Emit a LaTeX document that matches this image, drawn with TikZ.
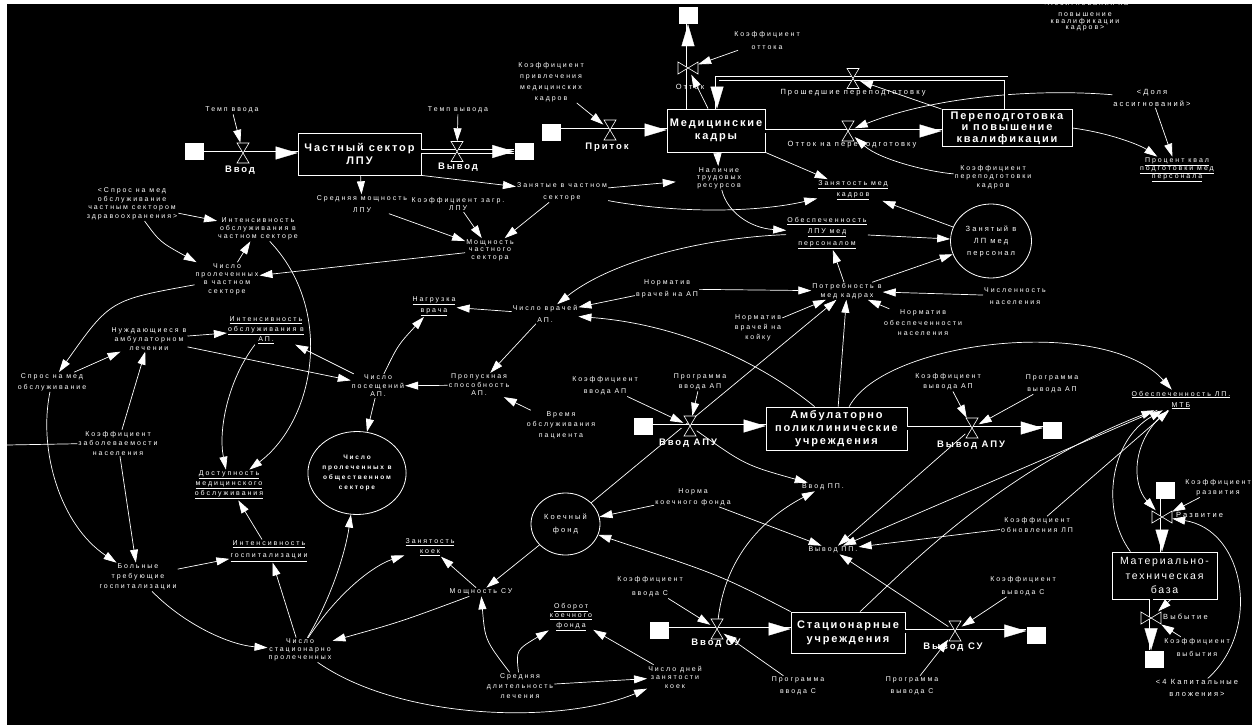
\documentclass[tikz,border=0pt]{standalone}
\usepackage{fontspec}
\setmainfont{Liberation Sans}
\newfontfamily\lbf[LetterSpace=28]{Liberation Sans}
\newfontfamily\stf[LetterSpace=17]{Liberation Sans}
\newfontfamily\flf[LetterSpace=20]{Liberation Sans}
\newcommand{\fsz}[2]{\lbf\fontsize{#1}{#2}\selectfont}
\usetikzlibrary{arrows.meta,shapes.geometric}
\begin{document}
\begin{tikzpicture}[x=1pt,y=-1pt,
  lb/.style={text=white, font=\fsz{7}{8.5}, align=center, inner sep=1pt},
  stock/.style={draw=white, line width=0.8pt, text=white, font=\stf\bfseries\fontsize{11}{12.5}\selectfont, align=center, inner sep=0pt},
  flbl/.style={text=white, font=\flf\bfseries\fontsize{9.5}{11}\selectfont, inner sep=1pt},
  flr/.style={text=white, font=\fsz{7.5}{9}, inner sep=1pt},
  circ/.style={draw=white, line width=0.8pt, ellipse, inner sep=0pt, text=white, align=center},
  sinkbox/.style={fill=white, minimum width=19pt, minimum height=17pt, inner sep=0pt},
  vnode/.style={inner sep=0pt, minimum width=13pt, minimum height=20pt},
  vvnode/.style={inner sep=0pt, minimum width=20pt, minimum height=13pt},
  pipe/.style={draw=white, double=black, double distance=3pt, line width=0.7pt},
  ptip/.style={draw=black, line width=0.3pt, -{Triangle[length=22pt,width=13pt,color=white]}},
  lnk/.style={draw=white, line width=0.7pt, -{Triangle[length=13pt,width=8pt]}},
  plainlnk/.style={draw=white, line width=0.7pt},
  hvalve/.pic={\draw[white, fill=black, line width=0.6pt] (-6,-10) -- (6,-10) -- (-6,10) -- (6,10) -- cycle;},
  vvalve/.pic={\draw[white, fill=black, line width=0.6pt] (-10,-6) -- (-10,6) -- (10,-6) -- (10,6) -- cycle;}
]
\useasboundingbox (0,0) rectangle (1252,725);
\fill[white] (0,0) rectangle (1252,725);
\fill[black] (7,4) rectangle (1252,725);

% stocks
\node[stock, minimum width=123pt, minimum height=42pt] (s1) at (359.5,154) {Частный сектор\\ЛПУ};
\node[stock, minimum width=98pt, minimum height=43pt] (s2) at (716,130.5) {Медицинские\\кадры};
\node[stock, minimum width=130pt, minimum height=37pt, font=\stf\bfseries\fontsize{11}{11.5}\selectfont] (s3) at (1007,128) {Переподготовка\\и повышение\\квалификации};
\node[stock, minimum width=141pt, minimum height=43pt, font=\stf\bfseries\fontsize{11}{13}\selectfont] (s4) at (836.5,428.5) {Амбулаторно\\поликлинические\\учреждения};
\node[stock, minimum width=114pt, minimum height=41pt, font=\stf\bfseries\fontsize{11}{14}\selectfont] (s5) at (848,632.5) {Стационарные\\учреждения};
\node[stock, minimum width=105pt, minimum height=47pt, font=\stf\fontsize{10.5}{14.5}\selectfont] (s6) at (1164.5,575.5) {Материально-\\техническая\\база};

% circles
\node[circ, minimum width=81pt, minimum height=74pt, font=\fsz{7.5}{12}] (c1) at (991,241) {Занятый в\\ЛП мед\\персонал};
\node[circ, minimum width=91pt, minimum height=83pt, font=\lbf\bfseries\fontsize{6.5}{10}\selectfont] (c2) at (357,473) {Число\\пролеченных в\\общественном\\секторе};
\node[circ, minimum width=69pt, minimum height=62pt, font=\fsz{7.5}{13}] (c3) at (565.5,524) {Коечный\\фонд};

% clouds and valves
\node[sinkbox] (cl1) at (194.5,151.5) {};
\node[vnode] (v1) at (243,153) {};
\node[sinkbox] (cl2) at (524,151.5) {};
\node[vnode] (v2) at (457,151.5) {};
\node[sinkbox] (cl3) at (551.5,132) {};
\node[vnode] (v3) at (610,130) {};
\node[sinkbox] (cl4) at (688,15.5) {};
\node[vvnode] (v4) at (688,68) {};
\node[vnode] (v5) at (848,131) {};
\node[vnode] (v6) at (853,78.5) {};
\node[sinkbox] (cl5) at (643,426.5) {};
\node[vnode] (v7) at (690,426) {};
\node[sinkbox] (cl6) at (1052.5,430.5) {};
\node[vnode] (v8) at (972,428) {};
\node[sinkbox] (cl7) at (659,630) {};
\node[vnode] (v9) at (717,629) {};
\node[sinkbox] (cl8) at (1036,635) {};
\node[vnode] (v10) at (955,631) {};
\node[sinkbox] (cl9) at (1165,490.5) {};
\node[vvnode] (v11) at (1162,517) {};
\node[sinkbox] (cl10) at (1154,659) {};
\node[vvnode] (v12) at (1151,618) {};
\coordinate (p6a) at (1006,78.5);
\coordinate (p6b) at (717,78.5);
\coordinate (ledge) at (7,445);

% variable labels
\node[lb] (tv) at (232,110) {Темп ввода};
\node[lb] (tw) at (458,110) {Темп вывода};
\node[lb, font=\fsz{7}{11}] (kp) at (551,82) {Коэффициент\\привлечения\\медицинских\\кадров};
\node[lb, font=\fsz{7}{13}] (ko) at (767,40) {Коэффициент\\оттока};
\node[lb, font=\fsz{7}{6.8}, anchor=north] (ass) at (1085,-0.5) {<Ассигнования на\\[4pt]повышение\\квалификации\\кадров>};
\node[lb, font=\fsz{7.5}{12}] (dol) at (1152,98) {<Доля\\ассигнований>};
\node[lb, font=\fsz{7}{8}] (pkm) at (1177,170) {\underline{Процент квал}\\\underline{подготовки мед}\\\underline{персонала}};
\node[lb] (le) at (993,177) {Коэффициент\\переподготовки\\кадров};
\node[lb, font=\fsz{7}{12}] (A) at (362,204) {Средняя мощность\\ЛПУ};
\node[lb] (B) at (458,204) {Коэффициент загр.\\ЛПУ};
\node[lb, font=\fsz{7}{12}] (C) at (562,192) {Занятые в частном\\секторе};
\node[lb, font=\fsz{7}{7.5}] (mch) at (490,250) {Мощность\\частного\\сектора};
\node[lb, font=\fsz{7}{7.5}] (nal2) at (719,178) {Наличие\\трудовых\\ресурсов};
\node[lb, font=\fsz{7}{11}] (zmk) at (853,190) {\underline{Занятость мед}\\\underline{кадров}};
\node[lb, font=\fsz{7}{11.5}] (olp) at (827,233) {\underline{Обеспеченность}\\\underline{ЛПУ мед}\\\underline{персоналом}};
\node[lb] (pmk) at (847,291) {Потребность в\\мед кадрах};
\node[lb, font=\fsz{7}{12}] (la) at (667,289) {Норматив\\врачей на АП};
\node[lb, font=\fsz{7}{10}] (lbb) at (758,328) {Норматив\\врачей на\\койку};
\node[lb, font=\fsz{7}{10.5}] (lc) at (923,323) {Норматив\\обеспеченности\\населения};
\node[lb, font=\fsz{7}{12}] (ld) at (1015,296) {Численность\\населения};
\node[lb, font=\fsz{7}{12}] (nvap) at (545,314) {Число врачей\\АП.};
\node[lb, font=\fsz{7}{11}] (nag) at (434,306) {\underline{Нагрузка}\\\underline{врача}};
\node[lb] (pap) at (479,385) {Пропускная\\способность\\АП.};
\node[lb] (npap) at (378,386) {Число\\посещений\\АП.};
\node[lb, font=\fsz{7}{10.5}] (vrm) at (561,425) {Время\\обслуживания\\пациента};
\node[lb, font=\fsz{7}{12}] (kvap) at (605,386) {Коэффициент\\ввода АП};
\node[lb, font=\fsz{7}{10}] (pvap) at (700,382) {Программа\\ввода АП};
\node[lb, font=\fsz{7}{10}] (kwap) at (948,382) {Коэффициент\\вывода АП};
\node[lb, font=\fsz{7}{12}] (pwap) at (1052,384) {Программа\\вывода АП};
\node[lb, font=\fsz{7}{11}] (mtb) at (1181,400) {\underline{Обеспеченность ЛП.}\\\underline{МТБ}};
\node[lb, font=\fsz{7}{11}] (sms) at (52,382) {Спрос на мед\\обслуживание};
\node[lb] (sps) at (132,204) {<Спрос на мед\\обслуживание\\частным сектором\\здравоохранения>};
\node[lb, font=\fsz{7}{8}] (ich) at (258,229) {Интенсивность\\обслуживания в\\частном секторе};
\node[lb, font=\fsz{7}{8.3}] (npc) at (227,279) {Число\\пролеченных\\в частном\\секторе};
\node[lb, font=\fsz{7}{9}] (nal) at (149,339) {Нуждающиеся в\\амбулаторном\\лечении};
\node[lb, font=\fsz{7}{10}] (iap) at (266,330) {\underline{Интенсивность}\\\underline{обслуживания в}\\\underline{АП.}};
\node[lb, font=\fsz{7}{9.5}] (kz) at (118,443) {Коэффициент\\заболеваемости\\населения};
\node[lb, font=\fsz{7}{10}] (dmo) at (229,485) {\underline{Доступность}\\\underline{медицинского}\\\underline{обслуживания}};
\node[lb, font=\fsz{7}{10}] (btg) at (138,577) {Больные\\требующие\\госпитализации};
\node[lb, font=\fsz{7}{12.5}] (igos) at (269,551) {\underline{Интенсивность}\\\underline{госпитализации}};
\node[lb, font=\fsz{7}{8}] (nsp) at (300,650) {Число\\стационарно\\пролеченных};
\node[lb, font=\fsz{7}{10}] (zk) at (430,547) {\underline{Занятость}\\\underline{коек}};
\node[lb] (msu) at (481,592) {Мощность СУ};
\node[lb, font=\fsz{7}{9.5}] (okf) at (571,617) {\underline{Оборот}\\\underline{коечного}\\\underline{фонда}};
\node[lb, font=\fsz{7}{10}] (srv) at (520,686) {Средняя\\длительность\\лечения};
\node[lb, font=\fsz{7}{8.5}] (ndz) at (675,677) {Число дней\\занятости\\коек};
\node[lb] (vin) at (823,487) {Ввод ПП.};
\node[lb] (vout) at (833,550) {Вывод ПП.};
\node[lb, font=\fsz{7}{11}] (kfl) at (693,497) {Норма\\коечного фонда};
\node[lb, font=\fsz{7}{10}] (kob) at (1037,525) {Коэффициент\\обновления ЛП};
\node[lb, font=\fsz{7}{14}] (kvs) at (650,587) {Коэффициент\\ввода С};
\node[lb, font=\fsz{7}{12}] (pvs) at (798,686) {Программа\\ввода С};
\node[lb, font=\fsz{7}{13}] (kws) at (1023,586) {Коэффициент\\вывода С};
\node[lb, font=\fsz{7}{12}] (pws) at (912,686) {Программа\\вывода С};
\node[lb, font=\fsz{7}{10}] (kr) at (1218,488) {Коэффициент\\развития};
\node[lb, font=\fsz{7}{13}] (kvb) at (1197,647) {Коэффициент\\выбытия};
\node[lb, font=\fsz{7.5}{11.5}] (kap) at (1197,688) {<4 Капитальные\\вложения>};

% information links
\draw[lnk] (tv) -- (v1);
\draw[lnk] (tw) -- (v2);
\draw[lnk] (kp) -- (v3);
\draw[lnk] (ko) -- (v4);
\draw[lnk] (s2.110) -- (v4);
\draw[lnk] (s3.north west) -- (v6);
\draw[lnk] (dol) .. controls (1030,88) and (930,98) .. (v5);
\draw[lnk] (le) .. controls (930,172) and (880,160) .. (v5);
\draw[lnk] (s3.east) .. controls (1110,133) and (1140,145) .. (pkm);
\draw[lnk] (dol) -- (pkm);
\draw[lnk] (s1) -- (A);
\draw[lnk] (s1.south east) -- (C);
\draw[lnk] (A) -- (mch);
\draw[lnk] (B) -- (mch);
\draw[lnk] (C) -- (mch);
\draw[lnk, shorten >=20pt] (C) -- (nal2);
\draw[lnk] (C) .. controls (680,214) and (760,212) .. (zmk);
\draw[lnk] (s2) -- (nal2);
\draw[lnk] (s2.south east) -- (zmk);
\draw[lnk] (nal2) .. controls (727,212) and (750,228) .. (olp);
\draw[lnk] (olp) -- (c1);
\draw[lnk] (c1) -- (zmk);
\draw[lnk] (pmk) -- (olp);
\draw[lnk] (pmk) -- (c1);
\draw[lnk] (ld) -- (pmk);
\draw[lnk] (lc) -- (pmk);
\draw[lnk] (lbb) -- (pmk);
\draw[lnk] (la) -- (pmk);
\draw[lnk] (s4) -- (pmk);
\draw[lnk] (c3) -- (pmk);
\draw[lnk] (olp) .. controls (700,238) and (610,262) .. (nvap);
\draw[lnk] (la) -- (nvap);
\draw[lnk] (s4.135) .. controls (770,370) and (690,325) .. (nvap);
\draw[lnk] (nvap) -- (nag);
\draw[lnk] (nvap) -- (pap);
\draw[lnk] (pap) -- (npap);
\draw[lnk] (vrm) -- (pap);
\draw[lnk] (npap) .. controls (398,345) .. (nag);
\draw[lnk] (npap) -- (c2);
\draw[lnk] (npap) -- (iap);
\draw[lnk] (nal) -- (npap);
\draw[lnk] (nal) -- (iap);
\draw[lnk] (sms) -- (nal);
\draw[lnk] (npc) .. controls (110,300) .. (sms);
\draw[lnk] (npc) -- (ich);
\draw[lnk] (sps) -- (ich);
\draw[lnk] (sps) .. controls (160,242) .. (npc);
\draw[lnk] (mch) -- (npc);
\draw[lnk] (ich) .. controls (335,310) and (315,420) .. (dmo);
\draw[lnk] (iap) .. controls (228,380) and (218,430) .. (dmo);
\draw[lnk] (kz) -- (nal);
\draw[lnk] (kz) -- (btg);
\draw[plainlnk] (ledge) -- (kz);
\draw[lnk] (sms) .. controls (38,450) and (60,525) .. (btg);
\draw[lnk] (btg) -- (igos);
\draw[lnk] (btg) .. controls (185,625) and (230,645) .. (nsp);
\draw[lnk] (nsp) -- (igos);
\draw[lnk] (igos) -- (dmo);
\draw[lnk] (nsp) .. controls (330,600) and (345,555) .. (c2);
\draw[lnk] (nsp) .. controls (340,590) and (375,565) .. (zk);
\draw[lnk] (nsp) .. controls (400,720) and (560,725) .. (ndz);
\draw[lnk] (msu) .. controls (400,622) .. (nsp);
\draw[lnk] (msu) -- (zk);
\draw[lnk] (c3) -- (msu);
\draw[lnk] (srv) .. controls (485,640) .. (msu);
\draw[lnk] (srv) .. controls (516,650) .. (okf);
\draw[lnk] (srv) -- (ndz);
\draw[lnk] (ndz) -- (okf);
\draw[lnk] (kfl) -- (c3);
\draw[lnk] (s5.north west) .. controls (720,575) .. (c3);
\draw[lnk] (kfl) -- (vout);
\draw[lnk] (kvap) -- (v7);
\draw[lnk] (pvap) -- (v7);
\draw[lnk] (kwap) -- (v8);
\draw[lnk] (pwap) -- (v8);
\draw[lnk] (v7) .. controls (745,465) .. (vin);
\draw[lnk] (v9) .. controls (725,560) and (760,520) .. (vin);
\draw[lnk] (kvs) -- (v9);
\draw[lnk] (pvs) -- (v9);
\draw[lnk] (kws) -- (v10);
\draw[lnk] (pws) -- (v10);
\draw[lnk] (v8) -- (vout);
\draw[lnk] (v10) -- (vout);
\draw[lnk] (mtb) -- (vout);
\draw[lnk] (kob) -- (vout);
\draw[lnk] (kob) -- (mtb);
\draw[lnk] (s4.60) .. controls (885,340) and (1105,315) .. (mtb);
\draw[lnk] (s5.60) .. controls (905,570) and (1000,470) .. (mtb);
\draw[lnk] (s6.145) .. controls (1100,510) and (1110,440) .. (mtb);
\draw[lnk] (mtb) .. controls (1130,440) and (1132,485) .. (v11);
\draw[lnk] (kr) -- (v11);
\draw[lnk] (kap) .. controls (1262,630) and (1245,530) .. (v11);
\draw[lnk] (kvb) -- (v12);
\draw[lnk] (s6.285) -- (v12);

% pipes
\draw[pipe] (cl1.east |- v1) -- (s1.west |- v1);
\draw[pipe] (s1.east |- v2) -- (cl2.west |- v2);
\draw[pipe] (cl3.east |- v3) -- (s2.west |- v3);
\draw[pipe] (s2.north -| v4) -- (cl4.south -| v4);
\draw[pipe] (s2.east |- v5) -- (s3.west |- v5);
\draw[pipe] (s3.north -| p6a) -- (p6a) -- (p6b) -- (s2.north -| p6b);
\draw[pipe] (cl5.east |- v7) -- (s4.west |- v7);
\draw[pipe] (s4.east |- v8) -- (cl6.west |- v8);
\draw[pipe] (cl7.east |- v9) -- (s5.west |- v9);
\draw[pipe] (s5.east |- v10) -- (cl8.west |- v10);
\draw[pipe] (cl9.south -| v11) -- (s6.north -| v11);
\draw[pipe] (s6.south -| v12) -- (cl10.north -| v12);
\draw[ptip] (cl1.east |- v1) -- (s1.west |- v1);
\draw[ptip] (s1.east |- v2) -- (cl2.west |- v2);
\draw[ptip] (cl3.east |- v3) -- (s2.west |- v3);
\draw[ptip] (s2.north -| v4) -- (cl4.south -| v4);
\draw[ptip] (s2.east |- v5) -- (s3.west |- v5);
\draw[ptip] (p6b) -- (s2.north -| p6b);
\draw[ptip] (cl5.east |- v7) -- (s4.west |- v7);
\draw[ptip] (s4.east |- v8) -- (cl6.west |- v8);
\draw[ptip] (cl7.east |- v9) -- (s5.west |- v9);
\draw[ptip] (s5.east |- v10) -- (cl8.west |- v10);
\draw[ptip] (cl9.south -| v11) -- (s6.north -| v11);
\draw[ptip] (s6.south -| v12) -- (cl10.north -| v12);
\pic at (v1) {hvalve};
\pic at (v2) {hvalve};
\pic at (v3) {hvalve};
\pic at (v4) {vvalve};
\pic at (v5) {hvalve};
\pic at (v6) {hvalve};
\pic at (v7) {hvalve};
\pic at (v8) {hvalve};
\pic at (v9) {hvalve};
\pic at (v10) {hvalve};
\pic at (v11) {vvalve};
\pic at (v12) {vvalve};

% flow labels
\node[flbl] (fv1) at (240,170) {Ввод};
\node[flbl] (fv2) at (458,167) {Вывод};
\node[flbl] (fv3) at (607,147) {Приток};
\node[flr] (fv4) at (690,87) {Отток};
\node[flr] (fv5) at (852,145) {Отток на переподготовку};
\node[flr] (fv6) at (853,93) {Прошедшие переподготовку};
\node[flbl] (fv7) at (688,443) {Ввод АПУ};
\node[flbl] (fv8) at (971,445) {Вывод АПУ};
\node[flbl] (fv9) at (716,643) {Ввод СУ};
\node[flbl] (fv10) at (953,647) {Вывод СУ};
\node[flr, anchor=west] (fv11) at (1175,515) {Развитие};
\node[flr, anchor=west] (fv12) at (1162,617) {Выбытие};

% page margins
\fill[white] (0,0) rectangle (1252,4);
\fill[white] (0,0) rectangle (7,725);
\end{tikzpicture}
\end{document}
